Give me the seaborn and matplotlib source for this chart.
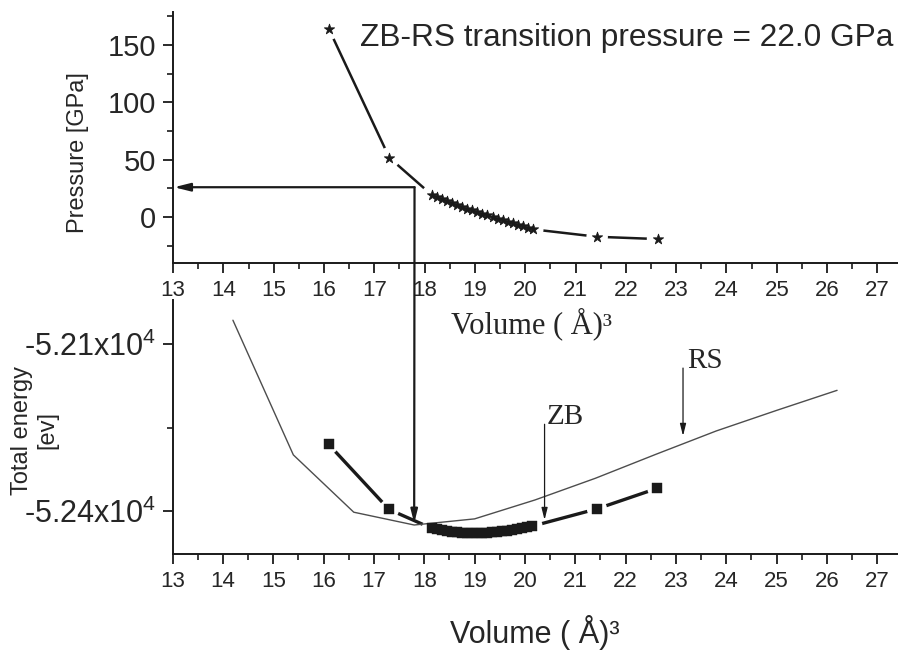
import matplotlib
matplotlib.use("Agg")
import matplotlib.pyplot as plt
import seaborn as sns
import pandas as pd
from matplotlib.patches import ConnectionPatch
from matplotlib.ticker import MultipleLocator, FixedLocator, FixedFormatter

# ---------------- data ----------------
volume_zb = [16.10, 17.30,
             18.15, 18.25, 18.35, 18.45, 18.55, 18.65, 18.75, 18.85, 18.95, 19.05,
             19.15, 19.25, 19.35, 19.45, 19.55, 19.65, 19.75, 19.85, 19.95, 20.05, 20.15,
             21.43, 22.63]
pressure_zb = [163.8, 51.7,
               19.0, 17.2, 15.4, 13.7, 12.0, 10.4, 8.8, 7.3, 5.8, 4.4,
               3.0, 1.6, 0.3, -1.3, -2.8, -4.1, -5.5, -6.8, -8.1, -9.4, -10.7,
               -17.2, -19.2]
energy_zb = [-52280, -52397,
             -52431, -52433, -52434.5, -52436, -52437, -52438, -52438.5, -52439, -52439, -52439,
             -52439, -52438.5, -52438, -52437, -52436, -52435, -52434, -52432.5, -52431, -52429, -52427,
             -52396, -52359]

volume_rs = [14.2, 15.4, 16.6, 17.8, 19.0, 20.2, 21.4, 22.6, 23.8, 25.0, 26.2]
energy_rs = [-52057, -52299, -52402, -52425, -52414, -52380, -52341, -52298, -52256, -52219, -52183]

transition_volume = 17.8
transition_pressure_level = 26.0
transition_energy_level = -52422
title_text = "ZB-RS transition pressure = 22.0 GPa"

x_ticks = list(range(13, 28))
p_ticks = [0, 50, 100, 150]
e_ticks = [-52400, -52100]
e_tick_labels = ["-5.24x10$^{4}$", "-5.21x10$^{4}$"]

zb_df = pd.DataFrame({"volume": volume_zb, "pressure": pressure_zb, "energy": energy_zb})
rs_df = pd.DataFrame({"volume": volume_rs, "energy": energy_rs})

# ---------------- style ----------------
sns.set_theme(style="ticks")
plt.rcParams["font.family"] = ["Liberation Sans", "DejaVu Sans"]
plt.rcParams["mathtext.fontset"] = "custom"
plt.rcParams["mathtext.rm"] = "Liberation Sans"
plt.rcParams["mathtext.it"] = "Liberation Sans:italic"
plt.rcParams["mathtext.bf"] = "Liberation Sans:bold"

TXT = "#262626"
INK = "#1a1a1a"
serif = ["Liberation Serif", "DejaVu Serif"]

fig = plt.figure(figsize=(8.98, 6.54), dpi=100)
ax1 = fig.add_axes([0.1927, 0.598, 0.8073, 0.384])
ax2 = fig.add_axes([0.1921, 0.153, 0.8079, 0.388])
ax2.patch.set_visible(False)
ax1.patch.set_visible(False)
ax1.set_zorder(3)
ax2.set_zorder(2)

for ax in (ax1, ax2):
    ax.set_xlim(13, 27.41)
    for s in ("top", "right"):
        ax.spines[s].set_visible(False)
    for s in ("left", "bottom"):
        ax.spines[s].set_linewidth(1.4)
        ax.spines[s].set_color(INK)
    ax.xaxis.set_major_locator(FixedLocator(x_ticks))
    ax.xaxis.set_minor_locator(MultipleLocator(0.5))
    ax.tick_params(axis="both", which="major", direction="out", length=7, width=1.3,
                   color=INK, labelcolor=TXT)
    ax.tick_params(axis="both", which="minor", direction="out", length=4, width=1.2, color=INK)
    ax.tick_params(axis="x", which="major", labelsize=16, pad=5)

# ---------------- top: pressure ----------------
ax1.set_ylim(-40, 179)
ax1.yaxis.set_major_locator(FixedLocator(p_ticks))
ax1.yaxis.set_minor_locator(MultipleLocator(25))
ax1.tick_params(axis="y", which="major", labelsize=21, pad=5)

sns.lineplot(data=zb_df, x="volume", y="pressure", ax=ax1, color=INK, lw=1.8,
             sort=False, estimator=None, zorder=2)
# white halos give the gapped line-and-symbol look
ax1.scatter(zb_df["volume"], zb_df["pressure"], s=240, c="white", edgecolors="none", zorder=3)
sns.scatterplot(data=zb_df, x="volume", y="pressure", ax=ax1, marker="*", color=INK,
                s=60, edgecolor=INK, linewidth=0.6, zorder=4)

ax1.set_ylabel("Pressure [GPa]", fontsize=17, color=TXT)
ax1.yaxis.set_label_coords(-0.131, 0.44)
ax1.yaxis.label.set_va("center")
ax1.set_xlabel("Volume ( Å)³", fontsize=22, color=TXT, family=serif)
ax1.xaxis.set_label_coords(0.494, -0.243)
ax1.xaxis.label.set_va("center")

ax1.text(16.72, 156, title_text, fontsize=22.8, color=TXT, ha="left", va="center")

ax1.annotate("", xy=(13.02, transition_pressure_level),
             xytext=(transition_volume, transition_pressure_level),
             arrowprops=dict(arrowstyle="-|>,head_length=0.8,head_width=0.2", lw=1.6,
                             color=INK, shrinkA=0, shrinkB=0),
             annotation_clip=False, zorder=5)

# ---------------- bottom: energy ----------------
ax2.set_ylim(-52477, -52021)
ax2.yaxis.set_major_locator(FixedLocator(e_ticks))
ax2.yaxis.set_major_formatter(FixedFormatter(e_tick_labels))
ax2.yaxis.set_minor_locator(FixedLocator([-52250]))
ax2.tick_params(axis="y", which="major", labelsize=22, pad=5)

sns.lineplot(data=zb_df, x="volume", y="energy", ax=ax2, color=INK, lw=2.4,
             sort=False, estimator=None, zorder=2)
ax2.scatter(zb_df["volume"], zb_df["energy"], s=210, c="white", edgecolors="none", zorder=3)
sns.lineplot(data=rs_df, x="volume", y="energy", ax=ax2, color="#4d4d4d", lw=1.0,
             sort=False, estimator=None, zorder=3.5)
sns.scatterplot(data=zb_df, x="volume", y="energy", ax=ax2, marker="s", color=INK,
                s=46, edgecolor=INK, linewidth=0.3, zorder=4)

ax2.set_ylabel("Total energy\n[ev]", fontsize=17, color=TXT, linespacing=1.25)
ax2.yaxis.set_label_coords(-0.19, 0.488)
ax2.yaxis.label.set_va("center")
ax2.set_xlabel("Volume ( Å)³", fontsize=22, color=TXT)
ax2.xaxis.set_label_coords(0.5, -0.311)
ax2.xaxis.label.set_va("center")

ax2.annotate("", xy=(23.14, -52265), xytext=(23.14, -52143),
             arrowprops=dict(arrowstyle="-|>,head_length=0.6,head_width=0.15", lw=0.9,
                             color=INK, shrinkA=0, shrinkB=0), zorder=5)
ax2.text(23.22, -52131, "RS", fontsize=21, family=serif, color=TXT, ha="left", va="center")
ax2.annotate("", xy=(20.39, -52416), xytext=(20.39, -52244),
             arrowprops=dict(arrowstyle="-|>,head_length=0.6,head_width=0.15", lw=0.9,
                             color=INK, shrinkA=0, shrinkB=0), zorder=5)
ax2.text(20.43, -52231, "ZB", fontsize=21, family=serif, color=TXT, ha="left", va="center")

# long vertical arrow linking the two panels
con = ConnectionPatch(xyA=(transition_volume, transition_pressure_level), coordsA=ax1.transData,
                      xyB=(transition_volume, transition_energy_level), coordsB=ax2.transData,
                      arrowstyle="-|>,head_length=0.8,head_width=0.2", lw=1.6, color=INK,
                      shrinkA=0, shrinkB=0, zorder=6)
fig.add_artist(con)

fig.savefig("out.png", dpi=100, facecolor="white")
